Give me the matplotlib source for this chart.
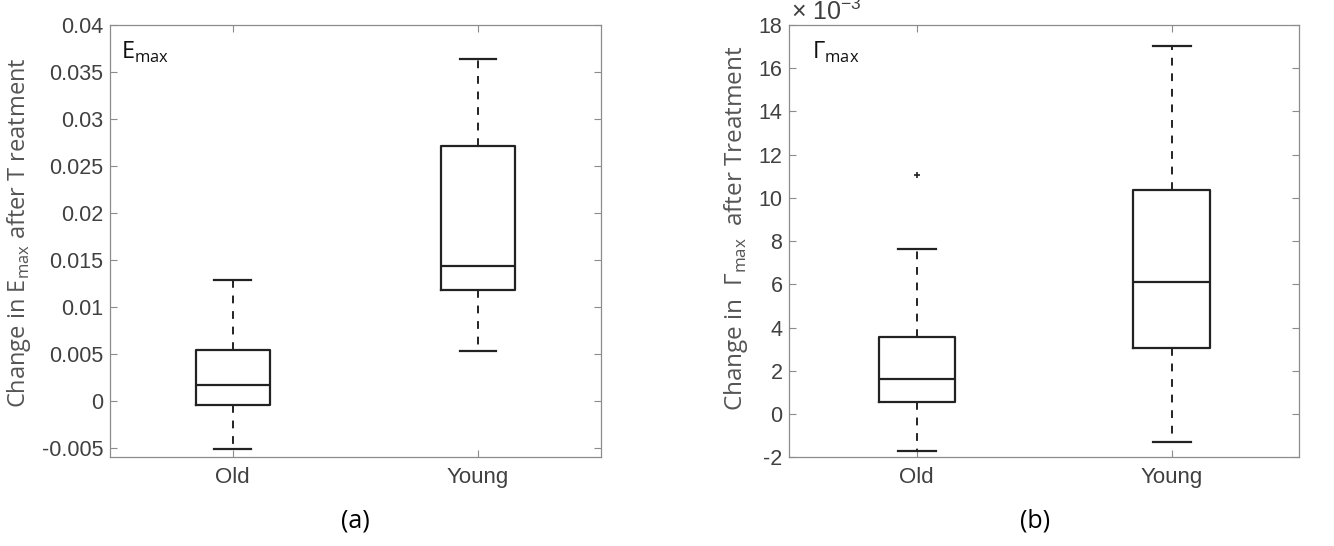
import numpy as np
import matplotlib
matplotlib.use("Agg")
import matplotlib.pyplot as plt

# group names
groups = ["Old", "Young"]

# panel (a): change in E_max  (whislo, q1, med, q3, whishi)
emax_old = [-0.0051, -0.00043, 0.0017, 0.00539, 0.0129]
emax_young = [0.00532, 0.01184, 0.0144, 0.02716, 0.0364]
emax_fliers_old = []
emax_fliers_young = []

# panel (b): change in Gamma_max, in units of 1e-3
gmax_old = [-1.71, 0.54, 1.62, 3.55, 7.64]
gmax_young = [-1.28, 3.05, 6.09, 10.35, 17.02]
gmax_fliers_old = [11.05]
gmax_fliers_young = []

emax_ticks = [-0.005, 0, 0.005, 0.01, 0.015, 0.02, 0.025, 0.03, 0.035, 0.04]
emax_ticklabels = ["-0.005", "0", "0.005", "0.01", "0.015", "0.02", "0.025", "0.03", "0.035", "0.04"]
gmax_ticks = [-2, 0, 2, 4, 6, 8, 10, 12, 14, 16, 18]

TICK_FONT = "Liberation Sans"
LABEL_FONT = "Open Sans"
GREY = "#8c8c8c"
TXT = "#404040"
TS = 15.5


def stats(vals, fliers, label):
    lo, q1, med, q3, hi = vals
    return dict(whislo=lo, q1=q1, med=med, q3=q3, whishi=hi, fliers=fliers, label=label)


def draw(ax, s_old, f_old, s_young, f_young):
    bs = [stats(s_old, f_old, groups[0]), stats(s_young, f_young, groups[1])]
    ax.bxp(bs, positions=[1, 2], widths=0.3, showfliers=True,
           boxprops=dict(color="#222222", linewidth=1.6),
           whiskerprops=dict(color="#222222", linewidth=1.4, linestyle=(0, (4, 4))),
           capprops=dict(color="#222222", linewidth=1.6),
           medianprops=dict(color="#222222", linewidth=1.6),
           flierprops=dict(marker="+", markeredgecolor="#222222", markersize=5, markeredgewidth=1.2))
    ax.set_xlim(0.5, 2.5)
    ax.set_xticks([1, 2])
    ax.set_xticklabels(groups, fontsize=16, fontfamily=TICK_FONT, color=TXT)
    ax.tick_params(direction="in", top=True, right=True, length=5, color=GREY,
                   labelcolor=TXT, width=0.8)
    ax.tick_params(axis="x", pad=7)
    ax.tick_params(axis="y", pad=5)
    for sp in ax.spines.values():
        sp.set_color(GREY)
        sp.set_linewidth(0.9)


fig = plt.figure(figsize=(13.34, 5.46), dpi=100)
ax1 = fig.add_axes([0.0825, 0.1624, 0.3678, 0.7918])
ax2 = fig.add_axes([0.5917, 0.1624, 0.3821, 0.7918])

draw(ax1, emax_old, emax_fliers_old, emax_young, emax_fliers_young)
ax1.set_ylim(-0.006, 0.04)
ax1.set_yticks(emax_ticks)
ax1.set_yticklabels(emax_ticklabels, fontsize=TS, fontfamily=TICK_FONT)
ax1.set_ylabel("Change in E$_{\\mathregular{max}}$ after T reatment", fontsize=17,
               fontfamily=LABEL_FONT, color="#555555")
ax1.yaxis.set_label_coords(-0.157, 0.52)
ax1.text(0.022, 0.965, "E$_{\\mathregular{max}}$", transform=ax1.transAxes, fontsize=17,
         fontfamily=LABEL_FONT, va="top", ha="left", color="#111111")
fig.text(0.2664, 0.045, "(a)", fontsize=18, fontfamily=LABEL_FONT, ha="center", va="center")

draw(ax2, gmax_old, gmax_fliers_old, gmax_young, gmax_fliers_young)
ax2.set_ylim(-2, 18)
ax2.set_yticks(gmax_ticks)
ax2.set_yticklabels([str(t) for t in gmax_ticks], fontsize=TS, fontfamily=TICK_FONT)
ax2.set_ylabel("Change in  \u0393$_{\\mathregular{max}}$  after Treatment", fontsize=17.5,
               fontfamily=LABEL_FONT, color="#555555")
ax2.yaxis.set_label_coords(-0.077, 0.53)
ax2.text(0.045, 0.965, "\u0393$_{\\mathregular{max}}$", transform=ax2.transAxes, fontsize=17,
         fontfamily=LABEL_FONT, va="top", ha="left", color="#111111")
ax2.text(0.003, 1.0115, "\u00d7 10$^{\\mathregular{-3}}$", transform=ax2.transAxes, fontsize=18,
         fontfamily=TICK_FONT, va="baseline", ha="left", color=TXT)
fig.text(0.776, 0.045, "(b)", fontsize=18, fontfamily=LABEL_FONT, ha="center", va="center")

fig.savefig("out.png", dpi=100)
